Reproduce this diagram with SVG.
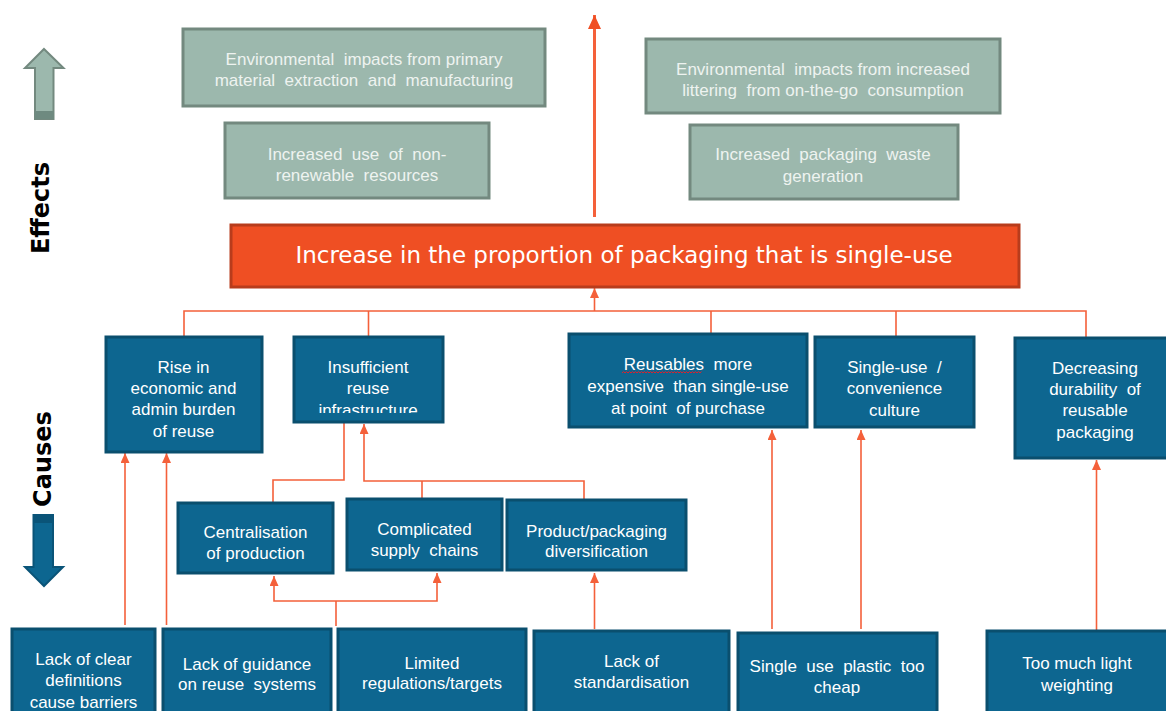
<svg xmlns="http://www.w3.org/2000/svg" width="1166" height="711" viewBox="0 0 1166 711">
<style>
.eff rect{fill:#9cb8ad;stroke:#73897f;stroke-width:3}
.eff text{fill:#eef3f0;font-family:"Liberation Sans",Arial,sans-serif;font-size:17px;text-anchor:middle;white-space:pre}
.cause rect{fill:#0d6690;stroke:#0a4f6e;stroke-width:3}
.cause text{fill:#ffffff;font-family:"Liberation Sans",Arial,sans-serif;font-size:17px;text-anchor:middle;white-space:pre}
.conn path{fill:none;stroke:#f4603a;stroke-width:1.6}
.lbl{font-family:"DejaVu Sans",Verdana,sans-serif;font-weight:bold;font-size:24px;fill:#000}
</style>
<defs>
<marker id="ah" markerUnits="userSpaceOnUse" markerWidth="10" markerHeight="9" viewBox="0 0 10 9" refX="10" refY="4.5" orient="auto">
<path d="M0,0 L10,4.5 L0,9 Z" fill="#f4603a"/>
</marker>
<marker id="ahBig" markerUnits="userSpaceOnUse" markerWidth="14" markerHeight="13" viewBox="0 0 14 13" refX="14" refY="6.5" orient="auto">
<path d="M0,0 L14,6.5 L0,13 Z" fill="#f04e23"/>
</marker>
<clipPath id="clipInf"><rect x="293" y="336" width="150" height="77"/></clipPath>
</defs>
<rect width="1166" height="711" fill="#ffffff"/>

<g id="side-labels">
<polygon points="44,49 63.5,68 53.5,68 53.5,119 35,119 35,68 25,68" fill="#9cb8ad" stroke="#73897f" stroke-width="2"/>
<rect x="35" y="111" width="18.5" height="8" fill="#6e8a80"/>
<text class="lbl" transform="translate(49,208) rotate(-90)" text-anchor="middle">Effects</text>
<text class="lbl" transform="translate(51,459) rotate(-90)" text-anchor="middle">Causes</text>
<polygon points="33.5,515 53,515 53,567 63,567 44,586 25,567 33.5,567" fill="#0d6690" stroke="#0a5478" stroke-width="2"/>
<rect x="33.5" y="515" width="19.5" height="8" fill="#0a5478"/>
</g>

<g id="connectors" class="conn">
<path d="M594.5,217 V15" stroke="#f04e23" style="stroke-width:3" marker-end="url(#ahBig)"/>
<path d="M184,336 V311 H1086 V337"/>
<path d="M368.5,311 V336"/>
<path d="M711,311 V334"/>
<path d="M896,311 V336"/>
<path d="M594.5,311 V288" marker-end="url(#ah)"/>
<path d="M125,625 V453" marker-end="url(#ah)"/>
<path d="M166.5,625 V453" marker-end="url(#ah)"/>
<path d="M344,423 V480 H273 V502"/>
<path d="M584,499 V481 H364 V424" marker-end="url(#ah)"/>
<path d="M422,498 V481"/>
<path d="M336,626 V601"/>
<path d="M336,601 H274 V576" marker-end="url(#ah)"/>
<path d="M336,601 H437 V573" marker-end="url(#ah)"/>
<path d="M594.5,629 V573" marker-end="url(#ah)"/>
<path d="M772,629 V430" marker-end="url(#ah)"/>
<path d="M861,629 V430" marker-end="url(#ah)"/>
<path d="M1096.5,630 V460" marker-end="url(#ah)"/>
</g>

<g id="effect-primary" class="eff">
<rect x="183" y="29" width="362" height="77"/>
<text x="364" y="65">Environmental  impacts from primary</text>
<text x="364" y="86">material  extraction  and  manufacturing</text>
</g>
<g id="effect-nonrenewable" class="eff">
<rect x="225" y="123" width="264" height="75"/>
<text x="357" y="160">Increased  use  of  non-</text>
<text x="357" y="181">renewable  resources</text>
</g>
<g id="effect-littering" class="eff">
<rect x="646" y="39" width="354" height="74"/>
<text x="823" y="75">Environmental  impacts from increased</text>
<text x="823" y="96">littering  from on-the-go  consumption</text>
</g>
<g id="effect-waste" class="eff">
<rect x="690" y="125" width="268" height="74"/>
<text x="823" y="160">Increased  packaging  waste</text>
<text x="823" y="182">generation</text>
</g>

<g id="core-problem">
<rect x="231" y="225" width="788" height="62" fill="#ef4f23" stroke="#b83c1c" stroke-width="3"/>
<text x="624" y="263" fill="#ffffff" font-family="DejaVu Sans, Verdana, sans-serif" font-size="23px" text-anchor="middle">Increase in the proportion of packaging that is single-use</text>
</g>

<g id="cause-rise" class="cause">
<rect x="106" y="337" width="156" height="115"/>
<text x="183.5" y="373">Rise in</text>
<text x="183.5" y="394">economic and</text>
<text x="183.5" y="415">admin burden</text>
<text x="183.5" y="437">of reuse</text>
</g>
<g id="cause-infrastructure" class="cause">
<rect x="294" y="337" width="149" height="85"/>
<g clip-path="url(#clipInf)">
<text x="368" y="373">Insufficient</text>
<text x="368" y="394">reuse</text>
<text x="368" y="416">infrastructure</text>
</g>
</g>
<g id="cause-expensive" class="cause">
<rect x="569" y="334" width="238" height="93"/>
<text x="688" y="370">Reusables  more</text>
<text x="688" y="392">expensive  than single-use</text>
<text x="688" y="414">at point  of purchase</text>
<path d="M622,373 l1.5,-1.5 l1.5,1.5 l1.5,-1.5 l1.5,1.5 l1.5,-1.5 l1.5,1.5 l1.5,-1.5 l1.5,1.5 l1.5,-1.5 l1.5,1.5 l1.5,-1.5 l1.5,1.5 l1.5,-1.5 l1.5,1.5 l1.5,-1.5 l1.5,1.5 l1.5,-1.5 l1.5,1.5 l1.5,-1.5 l1.5,1.5 l1.5,-1.5 l1.5,1.5 l1.5,-1.5 l1.5,1.5 l1.5,-1.5 l1.5,1.5 l1.5,-1.5 l1.5,1.5 l1.5,-1.5 l1.5,1.5 l1.5,-1.5 l1.5,1.5 l1.5,-1.5 l1.5,1.5 l1.5,-1.5 l1.5,1.5 l1.5,-1.5 l1.5,1.5 l1.5,-1.5 l1.5,1.5 l1.5,-1.5 l1.5,1.5 l1.5,-1.5 l1.5,1.5 l1.5,-1.5 l1.5,1.5 l1.5,-1.5 l1.5,1.5 l1.5,-1.5 l1.5,1.5 l1.5,-1.5 l1.5,1.5 l1.5,-1.5" fill="none" stroke="#e0202a" stroke-width="1"/>
</g>
<g id="cause-culture" class="cause">
<rect x="815" y="337" width="159" height="90"/>
<text x="894.5" y="373">Single-use  /</text>
<text x="894.5" y="394">convenience</text>
<text x="894.5" y="416">culture</text>
</g>
<g id="cause-durability" class="cause">
<rect x="1015" y="338" width="162" height="120"/>
<text x="1095" y="374">Decreasing</text>
<text x="1095" y="395">durability  of</text>
<text x="1095" y="416">reusable</text>
<text x="1095" y="438">packaging</text>
</g>
<g id="cause-centralisation" class="cause">
<rect x="178" y="503" width="155" height="70"/>
<text x="255.5" y="538">Centralisation</text>
<text x="255.5" y="559">of production</text>
</g>
<g id="cause-supply" class="cause">
<rect x="347" y="499" width="155" height="71"/>
<text x="424.5" y="535">Complicated</text>
<text x="424.5" y="556">supply  chains</text>
</g>
<g id="cause-diversification" class="cause">
<rect x="507" y="500" width="179" height="70"/>
<text x="596.5" y="537">Product/packaging</text>
<text x="596.5" y="557">diversification</text>
</g>
<g id="cause-definitions" class="cause">
<rect x="12" y="629" width="143" height="95"/>
<text x="83.5" y="665">Lack of clear</text>
<text x="83.5" y="686">definitions</text>
<text x="83.5" y="708">cause barriers</text>
</g>
<g id="cause-guidance" class="cause">
<rect x="163" y="629" width="168" height="95"/>
<text x="247" y="670">Lack of guidance</text>
<text x="247" y="690">on reuse  systems</text>
</g>
<g id="cause-regulations" class="cause">
<rect x="338" y="629" width="188" height="95"/>
<text x="432" y="669">Limited</text>
<text x="432" y="689">regulations/targets</text>
</g>
<g id="cause-standardisation" class="cause">
<rect x="534" y="631" width="195" height="95"/>
<text x="631.5" y="667">Lack of</text>
<text x="631.5" y="688">standardisation</text>
</g>
<g id="cause-cheap" class="cause">
<rect x="738" y="633" width="199" height="95"/>
<text x="837" y="672">Single  use  plastic  too</text>
<text x="837" y="693">cheap</text>
</g>
<g id="cause-lightweighting" class="cause">
<rect x="987" y="631" width="182" height="95"/>
<text x="1077" y="669">Too much light</text>
<text x="1077" y="691">weighting</text>
</g>
</svg>
